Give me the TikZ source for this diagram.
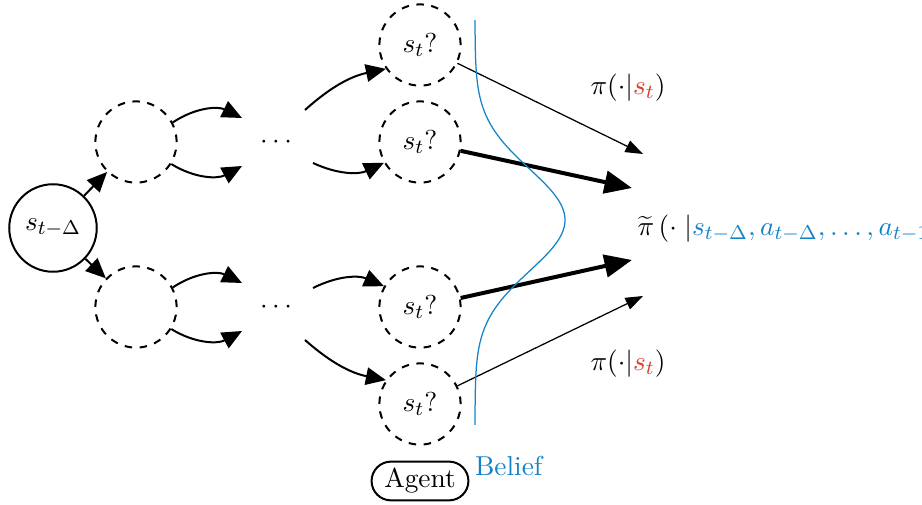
\documentclass[11pt,tikz,border=0pt]{standalone}
\usetikzlibrary{arrows.meta,shapes.misc}
\definecolor{beliefblue}{RGB}{20,130,200}
\definecolor{statered}{RGB}{220,60,40}
\tikzset{
  state/.style={circle, draw, thick, inner sep=0pt},
  guess/.style={state, dashed, minimum size=32.5pt},
  grow arrow/.style={thick, -{Triangle[length=8pt,width=7pt]}},
  thin policy/.style={semithin, -{Triangle[length=7pt,width=5pt]}},
  thick policy/.style={line width=1.6pt, -{Triangle[length=11pt,width=9pt]}},
  semithin/.style={line width=0.5pt}
}

\begin{document}
\begin{tikzpicture}[x=0.4pt, y=-0.4pt]
    \useasboundingbox (0,0) rectangle (922,505);
    \node[state, minimum size=35pt] (Start node) at (53,228) {$s_{t-\Delta}$};
    \node[guess] (Upper node) at (136,142) {};
    \node[guess] (Lower node) at (136,307) {};
    \node (Upper dots) at (276,142) {$\cdots$};
    \node (Lower dots) at (276,307) {$\cdots$};
    \foreach \i/\y in {1/45, 2/142, 3/307, 4/404}
        \node[guess] (Guess \i) at (420,\y) {$s_t?$};
    \node[draw, thick, rounded rectangle, minimum height=15.5pt, inner xsep=3.2pt, inner ysep=2pt] (Agent node) at (420,481) {Agent};
    \node[beliefblue, anchor=west, inner sep=1pt] (Belief node) at (472,466) {Belief};
    \node[anchor=west, inner sep=0pt] (Mixture node) at (637,228)
        {$\widetilde{\pi}\,(\cdot\;\big|{\color{beliefblue}s_{t-\Delta}, a_{t-\Delta}, \ldots, a_{t-1}})$};
    \node (Upper pi) at (628,88) {$\pi(\cdot|{\color{statered}s_t})$};
    \node (Lower pi) at (628,364) {$\pi(\cdot|{\color{statered}s_t})$};

    \coordinate (Upper out a) at (242,118);
    \coordinate (Upper out b) at (242,166);
    \coordinate (Lower out a) at (242,283);
    \coordinate (Lower out b) at (242,331);
    \coordinate (In 1) at (305,110);
    \coordinate (In 2) at (313,163);
    \coordinate (In 3) at (313,288);
    \coordinate (In 4) at (305,340);
    \coordinate (End 1) at (643,154);
    \coordinate (End 2) at (632,188);
    \coordinate (End 3) at (632,260);
    \coordinate (End 4) at (643,296);

    \draw[grow arrow] (Start node) -- (Upper node);
    \draw[grow arrow] (Start node) -- (Lower node);
    \draw[grow arrow] (Upper node.28) to[bend left=30] (Upper out a);
    \draw[grow arrow] (Upper node.-32) to[bend right=30] (Upper out b);
    \draw[grow arrow] (Lower node.28) to[bend left=30] (Lower out a);
    \draw[grow arrow] (Lower node.-32) to[bend right=30] (Lower out b);
    \draw[grow arrow] (In 1) to[bend left=15] (Guess 1.215);
    \draw[grow arrow] (In 2) to[bend right=25] (Guess 2.210);
    \draw[grow arrow] (In 3) to[bend left=25] (Guess 3.150);
    \draw[grow arrow] (In 4) to[bend right=15] (Guess 4.145);

    \draw[thin policy] (Guess 1) -- (End 1);
    \draw[thick policy] (Guess 2) -- (End 2);
    \draw[thick policy] (Guess 3) -- (End 3);
    \draw[thin policy] (Guess 4) -- (End 4);

    \draw[beliefblue, line width=0.5pt] plot[domain=20:425, samples=120]
        ({475+90*exp(-0.5*((\x-220)/51)^2)}, \x);
\end{tikzpicture}
\end{document}
